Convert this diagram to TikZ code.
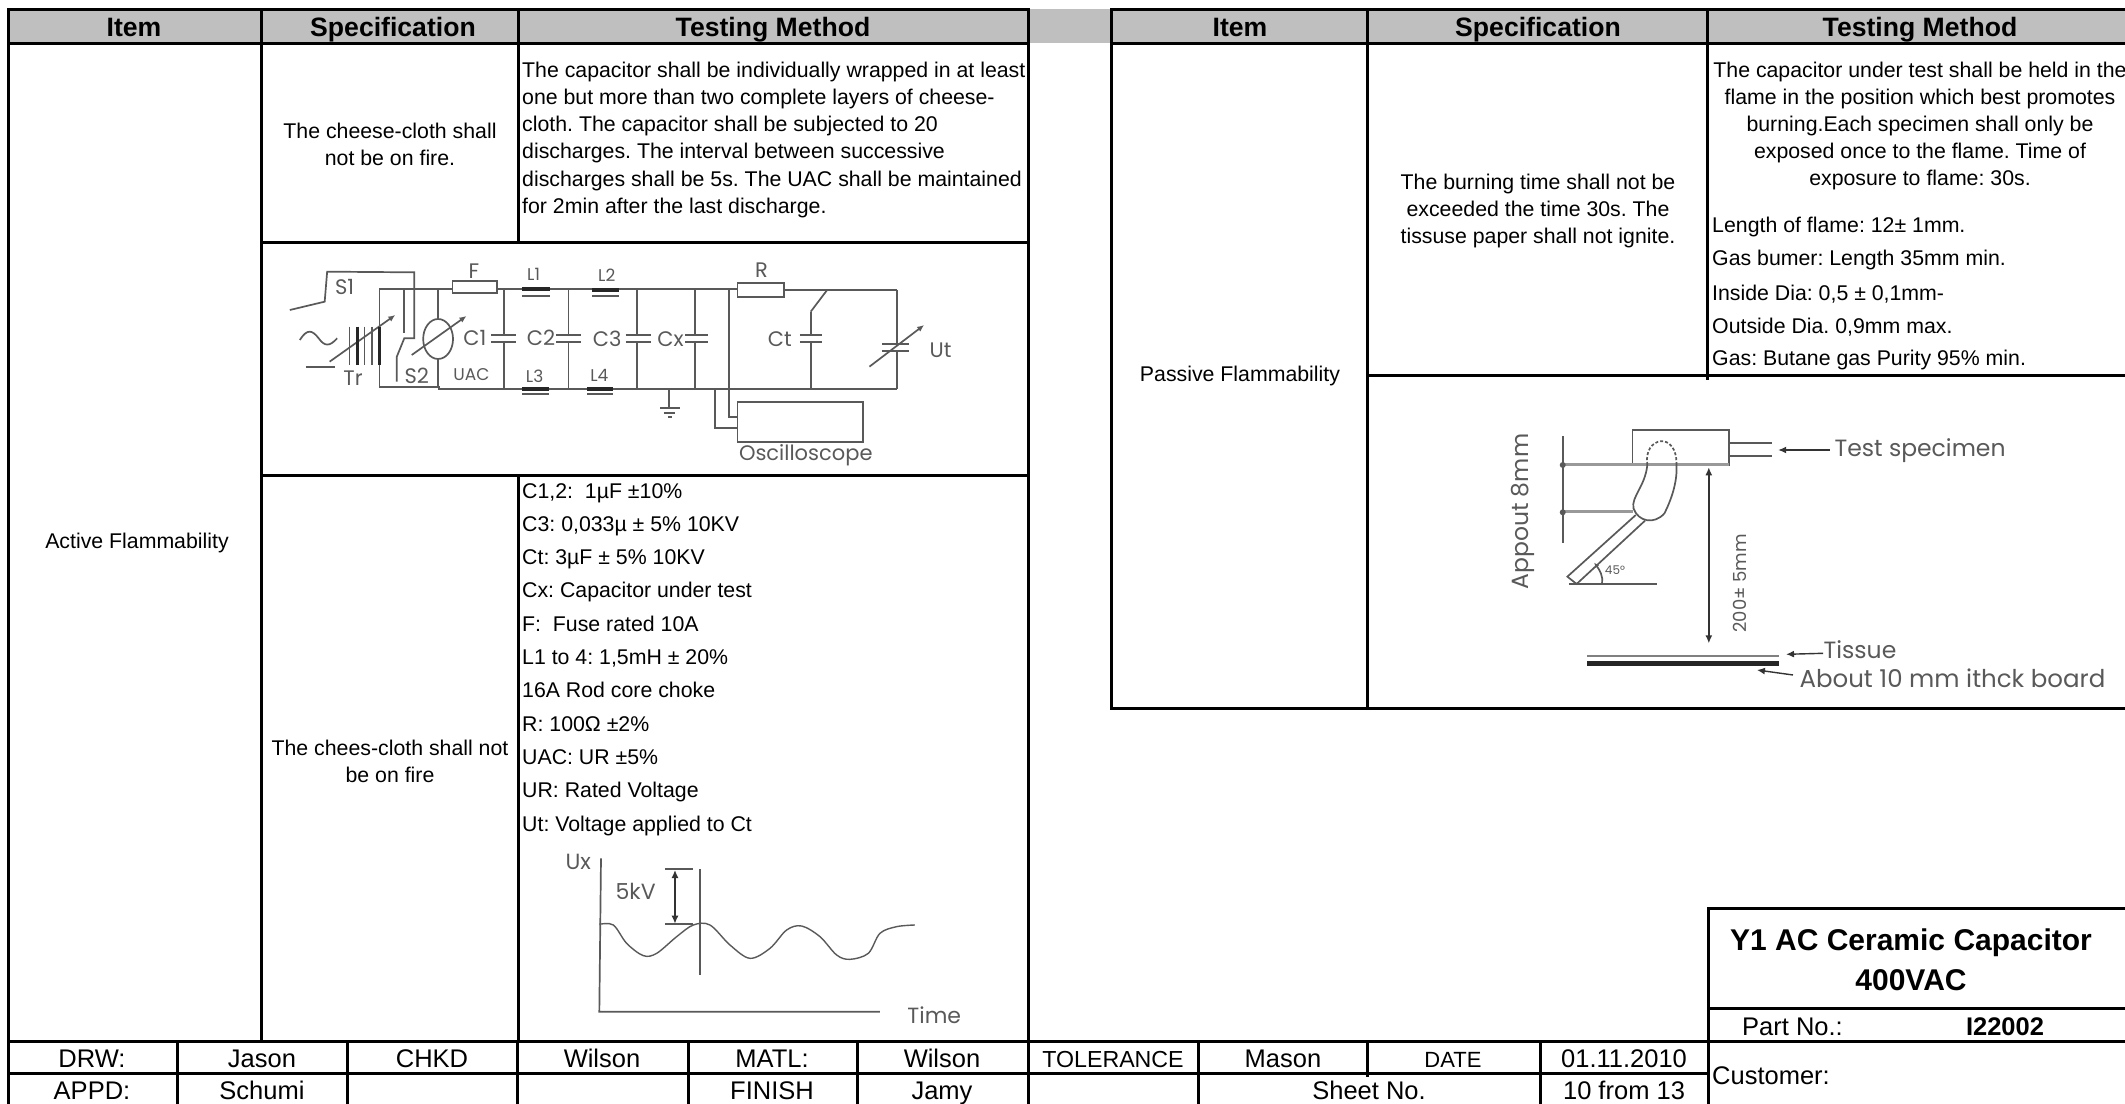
\documentclass[tikz,border=0pt]{standalone}
\usepackage{fontspec}
\setmainfont{Liberation Sans}
\newfontfamily\figfont{Poppins}
\usetikzlibrary{arrows.meta}
\frenchspacing
\colorlet{hdr}{black!25}
\colorlet{fig}{black!65}
\tikzset{
 rule/.style={line width=3pt,line cap=rect},
 hd/.style={font=\fontsize{26.6}{30}\selectfont\bfseries,inner sep=0,text height=19pt,text depth=5pt},
 body/.style={font=\fontsize{21.3}{27}\selectfont,inner sep=0,align=center},
 lbody/.style={font=\fontsize{21.3}{27.1}\selectfont,inner sep=0,align=left,anchor=north west},
 lone/.style={font=\fontsize{21.3}{27}\selectfont,inner sep=0,anchor=west},
 foot/.style={font=\fontsize{25.5}{30}\selectfont,inner sep=0,text height=18.4pt,text depth=5pt},
 wire/.style={draw=fig,line width=1.7pt},
 fl/.style={font=\figfont\fontsize{21}{24}\selectfont,text=fig,inner sep=0},
 fs/.style={font=\figfont\fontsize{23.5}{26}\selectfont,text=fig,inner sep=0},
 arr/.style={draw=black!80,line width=1.4pt,-{Latex[length=8pt,width=7pt]}},
 darr/.style={draw=black!80,line width=1.4pt,{Latex[length=8pt,width=7pt]}-{Latex[length=8pt,width=7pt]}},
}
\begin{document}
\begin{tikzpicture}[x=1pt,y=-1pt]
\useasboundingbox (0,0) rectangle (2125,1103);
% header band
\fill[hdr] (8,9) rectangle (2125,43);
% table rules
\draw[rule] (8,9) -- (1028,9) (1111,9) -- (2125,9);
\draw[rule] (8,43) -- (1028,43) (1111,43) -- (2125,43);
\draw[rule] (8,9) -- (8,1103);
\draw[rule] (261,9) -- (261,1041);
\draw[rule] (518,9) -- (518,242) (518,475) -- (518,1041);
\draw[rule] (1028,9) -- (1028,1103);
\draw[rule] (261,242) -- (1028,242) (261,475) -- (1028,475);
\draw[rule] (1111,9) -- (1111,708) -- (2125,708);
\draw[rule] (1367,9) -- (1367,708);
\draw[rule] (1707,9) -- (1707,378);
\draw[rule] (1367,375) -- (2125,375);
% title block
\draw[rule] (2125,908) -- (1708,908) -- (1708,1103);
\draw[rule] (1708,1008) -- (2125,1008);
\draw[rule] (8,1041) -- (2125,1041);
\draw[rule] (8,1073) -- (1708,1073);
\foreach \x in {177,347,517,688,857,1198,1540} \draw[rule] (\x,1041) -- (\x,1103);
\draw[rule] (1367,1041) -- (1367,1075);
% header text
\node[hd] (h1) at (134,29) {Item};
\node[hd] (h2) at (393,29) {Specification};
\node[hd] (h3) at (773,29) {Testing Method};
\node[hd] (h4) at (1240,29) {Item};
\node[hd] (h5) at (1538,29) {Specification};
\node[hd] (h6) at (1920,29) {Testing Method};
% left table text
\node[body] (aflam) at (137,543) {Active Flammability};
\node[body] (s1) at (390,144) {The cheese-cloth shall\\not be on fire.};
\node[lbody] (t1) at (522,62) {The capacitor shall be individually wrapped in at least\\one but more than two complete layers of cheese-\\cloth. The capacitor shall be subjected to 20\\discharges. The interval between successive\\discharges shall be 5s. The UAC shall be maintained\\for 2min after the last discharge.};
\node[body] (s2) at (390,761) {The chees-cloth shall not\\be on fire};
\node[lbody,font=\fontsize{21.3}{33.3}\selectfont] (t2) at (522,483) {C1,2:\ \ 1µF ±10\%\\C3: 0,033µ ± 5\% 10KV\\Ct: 3µF ± 5\% 10KV\\Cx: Capacitor under test\\F:\ \ Fuse rated 10A\\L1 to 4: 1,5mH ± 20\%\\16A Rod core choke\\R: 100Ω ±2\%\\UAC: UR ±5\%\\UR: Rated Voltage\\Ut: Voltage applied to Ct};
% right table text
\node[body] (pflam) at (1240,376) {Passive Flammability};
\node[body] (s3) at (1538,211) {The burning time shall not be\\exceeded the time 30s. The\\tissuse paper shall not ignite.};
\node[body] (t3) at (1920,125.5) {The capacitor under test shall be held in the\\flame in the position which best promotes\\burning.Each specimen shall only be\\exposed once to the flame. Time of\\exposure to flame: 30s.};
\node[lone] (t4) at (1712,227) {Length of flame: 12± 1mm.};
\node[lone] (t5) at (1712,260) {Gas bumer: Length 35mm min.};
\node[lone] (t6) at (1712,294) {Inside Dia: 0,5 ± 0,1mm-};
\node[lone] (t7) at (1712,327) {Outside Dia. 0,9mm max.};
\node[lone] (t8) at (1712,360) {Gas: Butane gas Purity 95\% min.};
% title block text
\node[hd,font=\fontsize{30}{34}\selectfont\bfseries] (ti1) at (1911,943) {Y1 AC Ceramic Capacitor};
\node[hd,font=\fontsize{30}{34}\selectfont\bfseries] (ti2) at (1911,983) {400VAC};
\node[foot,anchor=west] (pn) at (1742,1029) {Part No.:};
\node[foot,font=\fontsize{25.5}{30}\selectfont\bfseries] (pv) at (2005,1029) {I22002};
\node[foot,anchor=west] (cu) at (1712,1078) {Customer:};
% footer
\node[foot] (f1) at (92,1060.5) {DRW:};
\node[foot] (f2) at (262,1060.5) {Jason};
\node[foot] (f3) at (432,1060.5) {CHKD};
\node[foot] (f4) at (602,1060.5) {Wilson};
\node[foot] (f5) at (772,1060.5) {MATL:};
\node[foot] (f6) at (942,1060.5) {Wilson};
\node[foot,font=\fontsize{23.2}{28}\selectfont] (f7) at (1113,1060.5) {TOLERANCE};
\node[foot] (f8) at (1283,1060.5) {Mason};
\node[foot,font=\fontsize{22}{28}\selectfont] (f9) at (1453,1060.5) {DATE};
\node[foot] (f10) at (1624,1060.5) {01.11.2010};
\node[foot] (g1) at (92,1093) {APPD:};
\node[foot] (g2) at (262,1093) {Schumi};
\node[foot] (g5) at (772,1093) {FINISH};
\node[foot] (g6) at (942,1093) {Jamy};
\node[foot] (g8) at (1369,1093) {Sheet No.};
\node[foot] (g10) at (1624,1093) {10 from 13};
% circuit (coordinates in the crop's units)
\begin{scope}[shift={(260,240)},x=0.4975pt,y=-0.3333pt]
\draw[wire] (240,147) -- (387,147) (477,147) -- (960,147);
\draw[wire] (1053,150) -- (1280,150);
\draw[wire] (240,147) -- (240,440) -- (360,440) -- (360,447) -- (527,447) (527,447) -- (1280,447);
\draw[wire] (387,122) rectangle (477,160);
\draw[wire] (960,130) rectangle (1053,172);
\draw[black!85,line width=4pt] (527,147) -- (582,147) (668,150) -- (722,150) (527,447) -- (580,447) (658,447) -- (710,447);
\draw[wire] (527,168) -- (582,168) (668,168) -- (722,168) (527,462) -- (580,462) (658,462) -- (710,462);
\foreach \x/\a/\b in {490/465/515,620/595/645,758/735/785,875/855/900}{
 \draw[wire] (\x,147) -- (\x,285) (\x,305) -- (\x,447) (\a,285) -- (\b,285) (\a,305) -- (\b,305);}
\draw[wire] (1107,215) -- (1107,285) (1107,305) -- (1107,447) (1085,285) -- (1130,285) (1085,305) -- (1130,305);
\draw[wire] (1107,215) -- (1140,150);
\draw[wire] (942,147) -- (942,530) -- (960,530) (915,447) -- (915,565) -- (960,565);
\draw[wire] (960,487) rectangle (1212,605);
\draw[wire] (822,447) -- (822,505) (805,505) -- (845,505) (812,520) -- (835,520) (820,532) -- (828,532);
\draw[wire] (1280,150) -- (1280,312) (1280,332) -- (1280,447) (1250,312) -- (1305,312) (1250,332) -- (1305,332);
\draw[wire,-{Latex[length=7pt,width=6pt]}] (1225,380) -- (1335,255);
% source side
\draw[wire] (60,210) -- (130,185) -- (135,95) -- (310,97) -- (310,295) -- (290,295) -- (275,350) -- (275,425);
\draw[wire] (290,147) -- (290,280);
\draw[wire] (358,147) -- (358,238) (358,355) -- (358,440);
\draw[wire] (358,297) ellipse [x radius=30,y radius=60];
\draw[wire,-{Latex[length=7pt,width=6pt]}] (305,345) -- (415,228);
\draw[wire,-{Latex[length=7pt,width=6pt]}] (140,365) -- (272,225);
\draw[wire] (180,260) -- (180,375) (210,260) -- (210,375) (225,260) -- (225,375);
\draw[black!85,line width=3pt] (195,260) -- (195,375) (240,260) -- (240,375);
\draw[wire] (80,300) .. controls (95,265) and (105,270) .. (118,295) .. controls (130,320) and (140,320) .. (155,295);
\draw[wire] (92,382) -- (150,382);
\node[fl] (cS1) at (170,142) {S1};
\node[fl] (cS2) at (315,407) {S2};
\node[fl] (cTr) at (187,414) {Tr};
\node[fl,font=\figfont\fontsize{17}{20}\selectfont] (cUAC) at (425,405) {UAC};
\node[fl] (cC1) at (432,295) {C1};
\node[fl] (cC2) at (565,295) {C2};
\node[fl] (cC3) at (698,295) {C3};
\node[fl] (cCx) at (825,297) {Cx};
\node[fl] (cCt) at (1045,297) {Ct};
\node[fl] (cF) at (430,95) {F};
\node[fl,font=\figfont\fontsize{17}{20}\selectfont] (cL1) at (550,102) {L1};
\node[fl,font=\figfont\fontsize{17}{20}\selectfont] (cL2) at (697,105) {L2};
\node[fl,font=\figfont\fontsize{17}{20}\selectfont] (cL3) at (552,408) {L3};
\node[fl,font=\figfont\fontsize{17}{20}\selectfont] (cL4) at (682,405) {L4};
\node[fl] (cR) at (1008,92) {R};
\node[fl] (cUt) at (1368,330) {Ut};
\node[fl] (cOs) at (1097,645) {Oscilloscope};
\end{scope}
% waveform
\begin{scope}[shift={(520,830)},x=0.3333pt,y=-0.3333pt]
\draw[wire] (243,85) -- (238,545) -- (1080,545);
\draw[wire] (540,118) -- (540,435);
\draw[wire] (435,118) -- (520,118) (435,283) -- (520,283);
\draw[darr] (465,120) -- (465,281);
\draw[wire,line width=1.4pt] plot[smooth,tension=0.55] coordinates {(238,283) (280,285) (320,340) (370,377) (410,370) (470,320) (520,285) (570,285) (630,345) (690,385) (750,355) (800,300) (845,288) (900,320) (950,375) (990,388) (1045,370) (1080,310) (1130,290) (1185,285)};
\node[fs,font=\figfont\fontsize{22}{24}\selectfont] (wU) at (175,97) {Ux};
\node[fs,font=\figfont\fontsize{22}{24}\selectfont] (w5) at (347,185) {5kV};
\node[fs,font=\figfont\fontsize{22}{24}\selectfont] (wT) at (1243,555) {Time};
\end{scope}
% flame test figure
\begin{scope}[shift={(1400,380)},x=0.4623pt,y=-0.3333pt]
\draw[wire] (503,150) rectangle (712,255);
\draw[draw=black!40,line width=3pt] (350,255) -- (712,255) (350,395) -- (505,395);
\draw[wire] (712,190) -- (805,190) (712,228) -- (805,228);
\draw[wire] (352,168) -- (352,490);
\fill[fig] (352,255) circle [radius=3pt] (352,397) circle [radius=3pt];
\draw[arr] (930,210) -- (818,210);
\draw[wire,densely dashed] (535,255) .. controls (525,170) and (600,150) .. (598,255);
\draw[wire] (535,255) .. controls (530,320) and (500,350) .. (505,385) .. controls (515,425) and (550,435) .. (572,400) .. controls (590,350) and (600,300) .. (598,255);
\draw[wire] (510,405) -- (362,590) -- (382,612) -- (530,422);
\draw[wire] (365,612) -- (555,612);
\draw[wire,-{Latex[length=5pt,width=5pt]}] (437,612) .. controls (440,590) and (432,570) .. (420,548);
\draw[darr] (668,262) -- (668,790);
\draw[draw=black!50,line width=1.7pt] (405,828) -- (820,828);
\draw[draw=black!85,line width=5pt] (405,852) -- (820,852);
\draw[arr] (915,820) -- (835,823);
\draw[arr] (850,885) -- (772,870);
\node[fs] (ft) at (1125,212) {Test specimen};
\node[fs,rotate=90] (fa) at (265,395) {Appout 8mm};
\node[fs,font=\figfont\fontsize{18}{20}\selectfont,rotate=90] (fd) at (735,610) {200± 5mm};
\node[fl,font=\figfont\fontsize{12}{14}\selectfont] (f45) at (465,572) {45°};
\node[fs] (fi) at (995,808) {Tissue};
\node[fs,font=\figfont\fontsize{24.5}{26}\selectfont] (fb) at (1195,895) {About 10 mm ithck board};
\end{scope}
\end{tikzpicture}
\end{document}
